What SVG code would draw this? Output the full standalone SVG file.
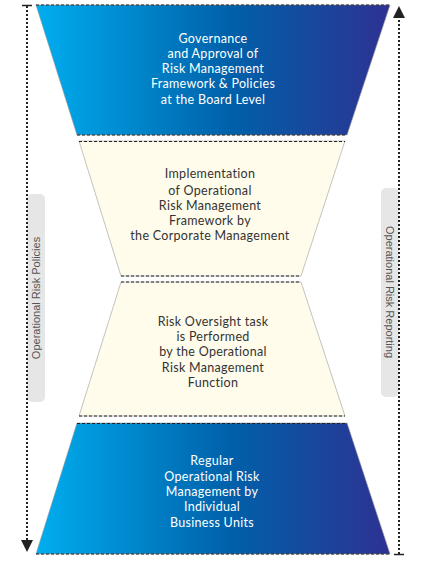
<svg xmlns="http://www.w3.org/2000/svg" width="427" height="582" viewBox="0 0 427 582">
<defs>
<linearGradient id="blue" x1="0" y1="0" x2="1" y2="0">
<stop offset="0" stop-color="#00AEEF"/>
<stop offset="0.55" stop-color="#0060A9"/>
<stop offset="1" stop-color="#2E3192"/>
</linearGradient>
<marker id="arr" viewBox="0 0 10 10" refX="5" refY="5" markerWidth="12" markerHeight="12" markerUnits="userSpaceOnUse" orient="auto">
<path d="M0,0 L10,5 L0,10 Z" fill="#222"/>
</marker>
</defs>
<style>
.blue{fill:url(#blue);stroke:#9a9a9a;stroke-width:0.6}
.cream{fill:#FFFCEC;stroke:#9a9a9a;stroke-width:0.6}
.dash{stroke:#222;stroke-width:1;stroke-dasharray:3 2;fill:none}
.dot{stroke:#222;stroke-width:2;stroke-dasharray:2 2;fill:none}
.tw{font-family:Lato,"Open Sans",sans-serif;font-size:12.5px;letter-spacing:0.3px;fill:#fff;text-anchor:middle}
.td{font-family:Lato,"Open Sans",sans-serif;font-size:12.5px;letter-spacing:0.3px;fill:#333;text-anchor:middle}
.side{fill:#E6E6E6}
.ts{font-family:"Liberation Sans",sans-serif;font-size:11px;fill:#555;text-anchor:middle}
</style>
<g id="policies">
<rect class="side" x="27" y="194" width="18" height="208" rx="5"/>
<text class="ts" transform="translate(40,298) rotate(-90)">Operational Risk Policies</text>
</g>
<g id="reporting">
<rect class="side" x="381" y="188" width="18" height="209" rx="5"/>
<text class="ts" transform="translate(386,292) rotate(90)">Operational Risk Reporting</text>
</g>
<g id="connectors">
<line class="dot" x1="27" y1="6" x2="27" y2="546" marker-end="url(#arr)"/>
<line x1="22" y1="5.5" x2="32" y2="5.5" stroke="#222" stroke-width="1.5"/>
<line class="dot" x1="399" y1="554" x2="399" y2="12" marker-end="url(#arr)"/>
<line x1="394" y1="554.5" x2="404" y2="554.5" stroke="#222" stroke-width="1.5"/>
</g>
<g id="governance">
<polygon class="blue" points="36,5 390,5 347,135 77,135"/>
<line class="dash" x1="36" y1="5" x2="390" y2="5"/>
<line class="dash" x1="77" y1="135" x2="347" y2="135"/>
<text class="tw" x="213" y="43">Governance</text>
<text class="tw" x="213" y="58">and Approval of</text>
<text class="tw" x="213" y="73">Risk Management</text>
<text class="tw" x="213" y="88">Framework &amp; Policies</text>
<text class="tw" x="213" y="104">at the Board Level</text>
</g>
<g id="implementation">
<polygon class="cream" points="79,141 345,141 301,276 121,276"/>
<line class="dash" x1="79" y1="141.5" x2="345" y2="141.5"/>
<line class="dash" x1="121" y1="276" x2="301" y2="276"/>
<text class="td" x="210" y="178">Implementation</text>
<text class="td" x="210" y="195">of Operational</text>
<text class="td" x="210" y="210">Risk Management</text>
<text class="td" x="210" y="225">Framework by</text>
<text class="td" x="210" y="240">the Corporate Management</text>
</g>
<g id="oversight">
<polygon class="cream" points="121,282 301,282 345,416 79,416"/>
<line class="dash" x1="121" y1="282" x2="301" y2="282"/>
<line class="dash" x1="79" y1="416" x2="345" y2="416"/>
<text class="td" x="213" y="326">Risk Oversight task</text>
<text class="td" x="213" y="341">is Performed</text>
<text class="td" x="213" y="356">by the Operational</text>
<text class="td" x="213" y="372">Risk Management</text>
<text class="td" x="213" y="387">Function</text>
</g>
<g id="business">
<polygon class="blue" points="77,423 347,423 390,554 36,554"/>
<line class="dash" x1="77" y1="423.5" x2="347" y2="423.5"/>
<line class="dash" x1="36" y1="554" x2="390" y2="554"/>
<text class="tw" x="212" y="465">Regular</text>
<text class="tw" x="212" y="481">Operational Risk</text>
<text class="tw" x="212" y="496">Management by</text>
<text class="tw" x="212" y="511">Individual</text>
<text class="tw" x="212" y="527">Business Units</text>
</g>
</svg>
